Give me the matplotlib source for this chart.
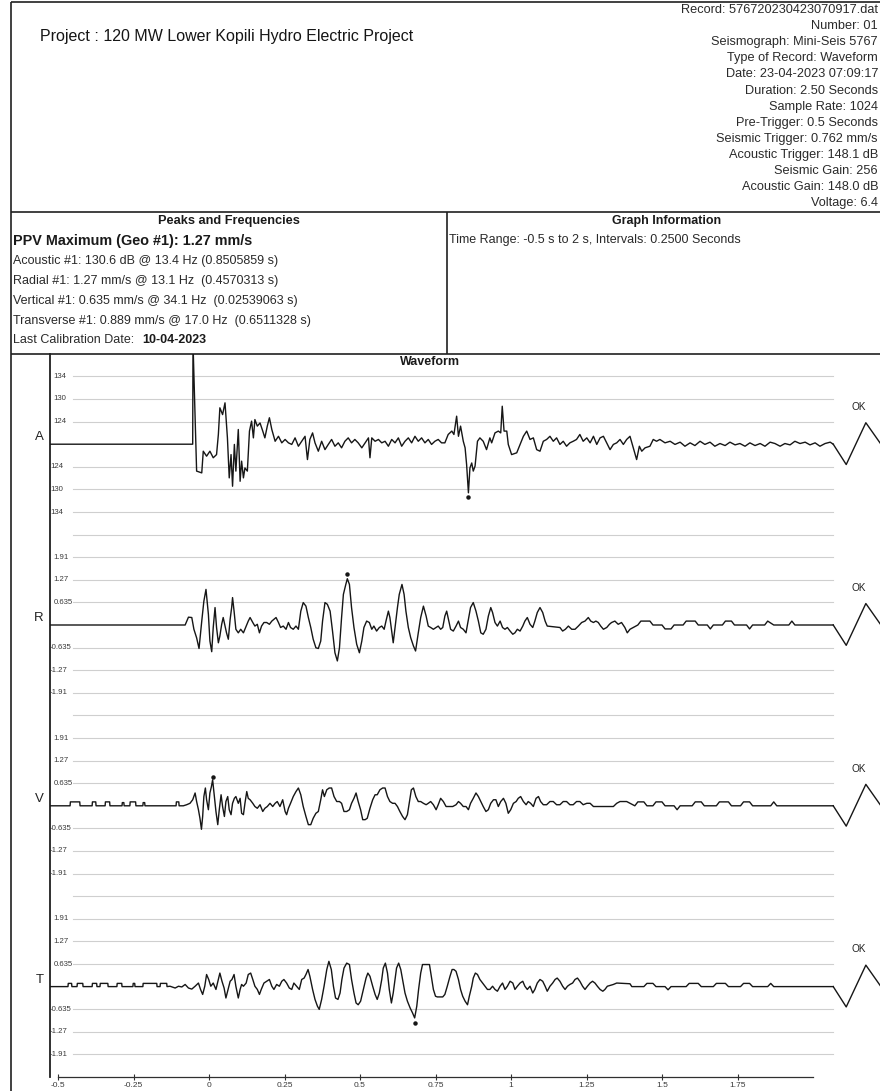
import matplotlib
matplotlib.use("Agg")
import matplotlib.pyplot as plt

plt.rcParams['font.family'] = ['Liberation Sans', 'DejaVu Sans']

W, H = 880, 1091

# ---------------- text content ----------------
title = "Project : 120 MW Lower Kopili Hydro Electric Project"
record_info = [
    "Record: 576720230423070917.dat",
    "Number: 01",
    "Seismograph: Mini-Seis 5767",
    "Type of Record: Waveform",
    "Date: 23-04-2023 07:09:17",
    "Duration: 2.50 Seconds",
    "Sample Rate: 1024",
    "Pre-Trigger: 0.5 Seconds",
    "Seismic Trigger: 0.762 mm/s",
    "Acoustic Trigger: 148.1 dB",
    "Seismic Gain: 256",
    "Acoustic Gain: 148.0 dB",
    "Voltage: 6.4",
]
ppv_line = "PPV Maximum (Geo #1): 1.27 mm/s"
peak_lines = [
    "Acoustic #1: 130.6 dB @ 13.4 Hz (0.8505859 s)",
    "Radial #1: 1.27 mm/s @ 13.1 Hz  (0.4570313 s)",
    "Vertical #1: 0.635 mm/s @ 34.1 Hz  (0.02539063 s)",
    "Transverse #1: 0.889 mm/s @ 17.0 Hz  (0.6511328 s)",
]
calib_label = "Last Calibration Date:"
calib_date = "10-04-2023"
graph_info = "Time Range: -0.5 s to 2 s, Intervals: 0.2500 Seconds"

# ---------------- waveform data ----------------
x_ticks = [-0.5, -0.25, 0, 0.25, 0.5, 0.75, 1, 1.25, 1.5, 1.75]
x_tick_labels = ["-0.5", "-0.25", "0", "0.25", "0.5", "0.75", "1", "1.25", "1.5", "1.75"]
geo_tick_values = [0.635, 1.27, 1.91]
acoustic_tick_labels = ["124", "130", "134"]

# Acoustic channel (time s, amplitude in chart divisions)
acoustic_trace = [
    (-0.53, 0.0), (-0.054, 0.0), (-0.053, 4.5), (-0.041, -1.19), (-0.024, -1.27),
    (-0.019, -0.31), (-0.008, -0.53), (0.003, -0.31), (0.014, -0.60), (0.025, -0.46),
    (0.031, 0.43), (0.036, 1.61), (0.045, 1.31), (0.053, 1.83), (0.061, 0.28),
    (0.067, -1.49), (0.073, -0.46), (0.078, -1.86), (0.084, -0.01), (0.089, -1.19),
    (0.097, 0.65), (0.103, -1.64), (0.108, -0.75), (0.114, -1.49), (0.119, -1.05),
    (0.127, -1.19), (0.134, 0.58), (0.141, 1.02), (0.147, 0.28), (0.152, 1.09),
    (0.160, 0.80), (0.169, 0.94), (0.178, 0.58), (0.185, 0.28), (0.193, 0.80),
    (0.200, 1.17), (0.208, 0.65), (0.219, 0.13), (0.230, 0.35), (0.241, 0.06),
    (0.252, 0.21), (0.263, 0.06), (0.274, -0.01), (0.285, 0.28), (0.296, -0.09),
    (0.307, 0.13), (0.318, 0.35), (0.326, -0.68), (0.334, 0.21), (0.343, 0.50),
    (0.351, 0.06), (0.362, -0.31), (0.373, 0.13), (0.384, -0.24), (0.395, -0.01),
    (0.406, 0.21), (0.417, -0.09), (0.428, 0.06), (0.439, -0.16), (0.450, 0.13),
    (0.461, 0.28), (0.472, 0.06), (0.483, 0.21), (0.494, 0.06), (0.506, -0.16),
    (0.517, 0.06), (0.528, 0.28), (0.533, -0.60), (0.539, 0.28), (0.550, 0.13),
    (0.561, 0.21), (0.572, 0.06), (0.583, 0.13), (0.594, -0.09), (0.605, 0.21),
    (0.616, 0.06), (0.627, 0.28), (0.638, -0.09), (0.649, 0.13), (0.660, 0.28),
    (0.671, 0.06), (0.682, 0.35), (0.693, 0.13), (0.704, 0.28), (0.715, 0.06),
    (0.726, 0.21), (0.737, -0.01), (0.748, 0.13), (0.759, 0.21), (0.770, 0.06),
    (0.781, 0.06), (0.792, 0.43), (0.804, 0.58), (0.811, 0.43), (0.820, 1.24),
    (0.826, 0.35), (0.833, 0.80), (0.842, 0.13), (0.848, -0.16), (0.853, -0.90),
    (0.859, -2.15), (0.864, -1.05), (0.870, -0.83), (0.875, -1.19), (0.881, -0.97),
    (0.889, 0.13), (0.897, 0.28), (0.908, 0.13), (0.919, -0.24), (0.930, 0.28),
    (0.936, 0.06), (0.947, 0.50), (0.958, 0.58), (0.966, 0.50), (0.971, 1.68),
    (0.977, 0.58), (0.986, 0.58), (0.991, -0.01), (1.002, -0.46), (1.019, -0.38),
    (1.030, -0.01), (1.041, 0.35), (1.052, 0.58), (1.063, 0.21), (1.074, 0.28),
    (1.085, -0.24), (1.096, -0.31), (1.107, 0.13), (1.118, 0.21), (1.129, 0.35),
    (1.140, 0.13), (1.151, 0.28), (1.162, -0.01), (1.173, 0.13), (1.184, -0.09),
    (1.195, 0.06), (1.206, 0.13), (1.217, 0.21), (1.228, 0.43), (1.239, 0.13),
    (1.251, 0.28), (1.262, 0.06), (1.273, 0.35), (1.284, -0.01), (1.295, 0.28),
    (1.306, 0.35), (1.317, 0.06), (1.328, -0.24), (1.339, -0.01), (1.350, 0.06),
    (1.361, 0.21), (1.372, -0.01), (1.383, 0.21), (1.394, 0.35), (1.405, -0.16),
    (1.416, -0.68), (1.425, -0.09), (1.433, -0.31), (1.444, -0.16), (1.460, -0.09),
    (1.471, 0.21), (1.482, 0.13), (1.493, 0.21), (1.510, 0.06), (1.527, 0.13),
    (1.543, -0.01), (1.560, 0.09), (1.576, -0.09), (1.593, 0.06), (1.609, -0.06),
    (1.626, 0.13), (1.642, -0.01), (1.659, 0.09), (1.675, -0.09), (1.692, 0.03),
    (1.709, -0.06), (1.725, 0.09), (1.742, -0.03), (1.758, 0.03), (1.775, -0.09),
    (1.791, 0.06), (1.808, -0.06), (1.825, 0.03), (1.841, -0.09), (1.858, 0.09),
    (1.874, 0.03), (1.891, -0.09), (1.907, 0.03), (1.924, -0.03), (1.940, 0.13),
    (1.957, 0.03), (1.974, 0.09), (1.990, -0.03), (2.007, 0.06), (2.023, -0.09),
    (2.040, 0.03), (2.057, 0.09), (2.067, 0.0),
]

# Radial (time s, mm/s)
radial_trace = [
    (-0.53, 0.0), (-0.079, 0.0), (-0.068, 0.22), (-0.057, 0.21), (-0.050, -0.12),
    (-0.041, -0.36), (-0.033, -0.66), (-0.024, 0.11), (-0.017, 0.67), (-0.010, 1.00),
    (-0.002, 0.30), (0.003, -0.45), (0.009, -0.75), (0.014, -0.07), (0.020, 0.49),
    (0.025, -0.07), (0.031, -0.50), (0.036, -0.31), (0.042, 0.02), (0.047, 0.21),
    (0.053, -0.03), (0.058, -0.22), (0.064, -0.40), (0.070, 0.16), (0.075, 0.49),
    (0.078, 0.77), (0.083, 0.39), (0.089, -0.12), (0.097, -0.22), (0.105, -0.12),
    (0.114, -0.22), (0.123, -0.03), (0.130, 0.11), (0.136, 0.21), (0.145, 0.07),
    (0.152, -0.03), (0.160, 0.02), (0.167, -0.22), (0.174, -0.03), (0.182, 0.07),
    (0.191, 0.07), (0.200, 0.02), (0.208, 0.11), (0.215, 0.16), (0.222, 0.21),
    (0.230, 0.07), (0.237, -0.07), (0.246, -0.03), (0.255, -0.12), (0.263, 0.07),
    (0.270, -0.07), (0.279, -0.12), (0.288, -0.03), (0.296, -0.12), (0.304, 0.39),
    (0.312, 0.63), (0.321, 0.53), (0.329, 0.21), (0.337, -0.07), (0.345, -0.40),
    (0.354, -0.64), (0.362, -0.66), (0.370, -0.45), (0.376, 0.11), (0.384, 0.63),
    (0.392, 0.58), (0.401, 0.39), (0.409, -0.17), (0.417, -0.78), (0.425, -1.01),
    (0.432, -0.64), (0.439, 0.21), (0.445, 0.86), (0.453, 1.14), (0.458, 1.30),
    (0.465, 1.14), (0.472, 0.49), (0.480, -0.07), (0.489, -0.54), (0.498, -0.78),
    (0.506, -0.45), (0.513, -0.07), (0.522, 0.11), (0.531, 0.07), (0.539, -0.12),
    (0.546, -0.03), (0.555, -0.17), (0.564, -0.07), (0.572, -0.03), (0.580, -0.12),
    (0.586, 0.11), (0.594, 0.39), (0.599, 0.21), (0.605, -0.17), (0.610, -0.50),
    (0.616, -0.07), (0.624, 0.49), (0.630, 0.86), (0.639, 1.14), (0.646, 0.86),
    (0.652, 0.39), (0.660, -0.07), (0.668, -0.36), (0.677, -0.59), (0.684, -0.73),
    (0.693, -0.22), (0.701, 0.21), (0.710, 0.53), (0.719, 0.25), (0.726, -0.03),
    (0.734, -0.07), (0.743, -0.12), (0.752, -0.07), (0.759, -0.03), (0.767, -0.12),
    (0.774, -0.07), (0.781, 0.25), (0.787, 0.39), (0.794, 0.11), (0.800, -0.12),
    (0.809, -0.17), (0.818, -0.03), (0.826, 0.11), (0.833, -0.07), (0.842, -0.12),
    (0.851, -0.22), (0.859, 0.16), (0.866, 0.49), (0.875, 0.63), (0.884, 0.39),
    (0.892, 0.11), (0.900, -0.22), (0.908, -0.26), (0.917, -0.12), (0.925, 0.25),
    (0.933, 0.49), (0.939, 0.35), (0.947, 0.07), (0.955, -0.03), (0.964, 0.11),
    (0.972, -0.07), (0.980, -0.12), (0.988, -0.07), (0.997, -0.17), (1.006, -0.26),
    (1.013, -0.22), (1.021, -0.12), (1.030, -0.17), (1.039, -0.03), (1.046, 0.11),
    (1.054, 0.21), (1.063, 0.02), (1.072, -0.07), (1.079, 0.11), (1.087, 0.35),
    (1.096, 0.49), (1.105, 0.35), (1.113, 0.11), (1.120, -0.03), (1.162, -0.07),
    (1.171, -0.17), (1.180, -0.12), (1.190, -0.03), (1.201, -0.12), (1.212, -0.12),
    (1.223, -0.03), (1.234, 0.07), (1.245, 0.11), (1.256, 0.21), (1.264, 0.11),
    (1.273, 0.07), (1.281, 0.11), (1.289, 0.07), (1.297, -0.03), (1.306, -0.12),
    (1.317, -0.07), (1.326, 0.02), (1.333, 0.07), (1.344, 0.11), (1.355, 0.02),
    (1.366, 0.07), (1.377, -0.07), (1.385, -0.22), (1.394, -0.12), (1.420, 0.0),
    (1.430, 0.11), (1.460, 0.11), (1.470, 0.0), (1.500, 0.0), (1.510, -0.11),
    (1.530, -0.11), (1.540, 0.0), (1.570, 0.0), (1.580, 0.11), (1.610, 0.11),
    (1.620, 0.0), (1.650, 0.0), (1.660, -0.11), (1.670, 0.0), (1.700, 0.0),
    (1.710, 0.11), (1.730, 0.11), (1.740, 0.0), (1.780, 0.0), (1.790, -0.11),
    (1.800, 0.0), (1.840, 0.0), (1.850, 0.11), (1.870, 0.0), (1.920, 0.0),
    (1.930, 0.11), (1.940, 0.0), (2.067, 0.0),
]

# Vertical (time s, mm/s)
vertical_trace = [
    (-0.53, 0.0), (-0.460, 0.0), (-0.459, 0.11), (-0.428, 0.11), (-0.427, 0.0),
    (-0.387, 0.0), (-0.386, 0.11), (-0.375, 0.11), (-0.374, 0.0), (-0.344, 0.0),
    (-0.343, 0.11), (-0.329, 0.11), (-0.328, 0.0), (-0.288, 0.0), (-0.287, 0.09),
    (-0.282, 0.09), (-0.281, 0.0), (-0.262, 0.0), (-0.261, 0.11), (-0.243, 0.11),
    (-0.242, 0.0), (-0.219, 0.0), (-0.218, 0.09), (-0.213, 0.09), (-0.212, 0.0),
    (-0.109, 0.0), (-0.108, 0.11), (-0.100, 0.11), (-0.099, 0.0), (-0.085, 0.0),
    (-0.074, 0.03), (-0.063, 0.07), (-0.054, 0.17), (-0.046, 0.36), (-0.041, 0.12),
    (-0.035, -0.11), (-0.030, -0.35), (-0.025, -0.66), (-0.021, -0.30), (-0.017, 0.26),
    (-0.012, 0.50), (-0.008, 0.17), (-0.002, -0.11), (0.003, 0.36), (0.008, 0.54),
    (0.012, 0.73), (0.018, 0.26), (0.023, -0.16), (0.029, -0.53), (0.034, -0.11),
    (0.040, 0.31), (0.045, -0.02), (0.051, -0.30), (0.056, 0.12), (0.062, 0.26),
    (0.067, -0.11), (0.073, -0.25), (0.078, 0.07), (0.084, 0.21), (0.089, 0.26),
    (0.097, 0.07), (0.103, 0.21), (0.108, -0.21), (0.114, -0.25), (0.119, 0.07),
    (0.125, 0.40), (0.130, 0.21), (0.136, 0.17), (0.145, 0.07), (0.152, -0.02),
    (0.160, -0.07), (0.169, 0.03), (0.178, -0.16), (0.185, -0.07), (0.193, -0.02),
    (0.202, 0.07), (0.211, -0.02), (0.219, 0.07), (0.226, 0.12), (0.235, -0.02),
    (0.244, 0.17), (0.252, -0.16), (0.257, -0.25), (0.263, -0.07), (0.270, 0.07),
    (0.279, 0.26), (0.288, 0.40), (0.296, 0.50), (0.304, 0.31), (0.312, -0.02),
    (0.321, -0.30), (0.329, -0.53), (0.337, -0.53), (0.345, -0.35), (0.354, -0.21),
    (0.362, -0.16), (0.370, 0.17), (0.376, 0.45), (0.382, 0.26), (0.390, 0.45),
    (0.398, 0.50), (0.406, 0.50), (0.414, 0.26), (0.423, 0.12), (0.432, 0.12),
    (0.439, 0.07), (0.447, -0.16), (0.456, -0.16), (0.465, -0.11), (0.472, 0.07),
    (0.480, 0.21), (0.487, 0.36), (0.494, 0.12), (0.502, -0.11), (0.509, -0.39),
    (0.517, -0.39), (0.524, -0.35), (0.533, -0.07), (0.542, 0.17), (0.550, 0.31),
    (0.557, 0.31), (0.566, 0.45), (0.575, 0.50), (0.583, 0.50), (0.591, 0.26),
    (0.599, 0.12), (0.608, 0.07), (0.616, 0.07), (0.624, -0.02), (0.632, -0.16),
    (0.641, -0.30), (0.649, -0.39), (0.657, -0.25), (0.663, 0.07), (0.670, 0.45),
    (0.677, 0.50), (0.685, 0.26), (0.693, 0.12), (0.701, 0.12), (0.710, 0.07),
    (0.719, 0.03), (0.726, 0.07), (0.734, 0.12), (0.743, 0.03), (0.752, -0.11),
    (0.759, 0.03), (0.767, 0.21), (0.776, 0.12), (0.785, -0.02), (0.796, -0.02),
    (0.807, -0.02), (0.818, 0.03), (0.826, 0.12), (0.833, 0.07), (0.842, -0.02),
    (0.851, -0.02), (0.859, -0.11), (0.866, 0.07), (0.875, 0.21), (0.884, 0.36),
    (0.892, 0.26), (0.900, 0.12), (0.908, -0.02), (0.917, -0.16), (0.925, -0.11),
    (0.933, 0.07), (0.942, 0.17), (0.950, 0.17), (0.958, -0.02), (0.966, 0.12),
    (0.975, 0.21), (0.983, 0.07), (0.991, -0.21), (0.999, -0.11), (1.008, 0.07),
    (1.017, 0.12), (1.024, 0.21), (1.032, 0.26), (1.041, 0.12), (1.050, 0.03),
    (1.057, 0.12), (1.065, 0.07), (1.074, -0.02), (1.083, 0.21), (1.091, 0.26),
    (1.098, 0.12), (1.107, 0.03), (1.118, 0.03), (1.129, 0.12), (1.140, 0.12),
    (1.151, 0.03), (1.162, 0.03), (1.173, 0.12), (1.184, 0.12), (1.195, 0.03),
    (1.206, 0.03), (1.217, 0.12), (1.228, 0.12), (1.239, 0.03), (1.251, 0.07),
    (1.262, 0.07), (1.273, -0.02), (1.339, -0.02), (1.350, 0.07), (1.361, 0.12),
    (1.383, 0.12), (1.394, 0.07), (1.410, 0.0), (1.420, 0.11), (1.440, 0.11),
    (1.450, 0.0), (1.470, 0.0), (1.480, 0.11), (1.500, 0.11), (1.510, 0.0),
    (1.540, 0.0), (1.550, -0.11), (1.560, 0.0), (1.600, 0.0), (1.610, 0.11),
    (1.630, 0.11), (1.640, 0.0), (1.680, 0.0), (1.690, 0.11), (1.720, 0.11),
    (1.730, 0.0), (1.760, 0.0), (1.770, 0.11), (1.790, 0.11), (1.800, 0.0),
    (1.860, 0.0), (1.870, 0.11), (1.880, 0.0), (2.067, 0.0),
]

# Transverse (time s, mm/s)
transverse_trace = [
    (-0.53, 0.0), (-0.467, 0.0), (-0.466, 0.09), (-0.455, 0.09), (-0.454, 0.0),
    (-0.437, 0.0), (-0.436, 0.09), (-0.418, 0.09), (-0.417, 0.0), (-0.387, 0.0),
    (-0.386, 0.09), (-0.372, 0.09), (-0.371, 0.0), (-0.361, 0.0), (-0.360, 0.09),
    (-0.335, 0.09), (-0.334, 0.0), (-0.305, 0.0), (-0.304, 0.09), (-0.289, 0.09),
    (-0.288, 0.0), (-0.252, 0.0), (-0.251, 0.09), (-0.246, 0.09), (-0.245, 0.0),
    (-0.219, 0.0), (-0.218, 0.09), (-0.173, 0.09), (-0.172, 0.0), (-0.162, 0.0),
    (-0.161, 0.09), (-0.140, 0.09), (-0.139, 0.0), (-0.129, 0.01), (-0.112, -0.04),
    (-0.101, 0.01), (-0.090, -0.01), (-0.079, 0.06), (-0.068, -0.04), (-0.057, -0.07),
    (-0.046, 0.01), (-0.035, 0.10), (-0.028, -0.08), (-0.021, -0.22), (-0.014, 0.01),
    (-0.008, 0.34), (-0.001, 0.20), (0.006, 0.01), (0.014, 0.10), (0.023, -0.08),
    (0.031, 0.20), (0.036, 0.38), (0.043, 0.15), (0.050, -0.04), (0.056, -0.32),
    (0.063, -0.08), (0.070, 0.15), (0.076, 0.20), (0.083, 0.34), (0.089, 0.01),
    (0.097, -0.32), (0.103, -0.08), (0.108, 0.06), (0.114, 0.01), (0.123, 0.10),
    (0.130, 0.34), (0.138, 0.38), (0.145, 0.20), (0.152, 0.01), (0.160, -0.08),
    (0.167, -0.22), (0.173, -0.08), (0.182, 0.10), (0.191, 0.15), (0.200, 0.20),
    (0.208, 0.01), (0.215, -0.08), (0.224, 0.06), (0.233, 0.01), (0.241, 0.15),
    (0.248, 0.20), (0.257, 0.10), (0.266, -0.04), (0.274, -0.08), (0.281, 0.10),
    (0.290, 0.01), (0.299, -0.08), (0.307, 0.20), (0.315, 0.24), (0.321, 0.34),
    (0.328, 0.48), (0.334, 0.29), (0.343, -0.08), (0.351, -0.36), (0.359, -0.55),
    (0.365, -0.64), (0.373, -0.36), (0.381, 0.01), (0.390, 0.48), (0.397, 0.71),
    (0.405, 0.48), (0.412, 0.01), (0.419, -0.32), (0.427, -0.36), (0.434, -0.18),
    (0.440, 0.20), (0.447, 0.52), (0.456, 0.66), (0.465, 0.62), (0.472, 0.20),
    (0.480, -0.18), (0.487, -0.46), (0.494, -0.51), (0.502, -0.41), (0.511, -0.08),
    (0.520, 0.24), (0.526, 0.38), (0.533, 0.29), (0.542, 0.01), (0.550, -0.22),
    (0.557, -0.36), (0.564, -0.18), (0.572, 0.20), (0.577, 0.52), (0.584, 0.66),
    (0.591, 0.38), (0.597, -0.08), (0.604, -0.46), (0.610, -0.18), (0.616, 0.20),
    (0.621, 0.52), (0.628, 0.66), (0.635, 0.48), (0.641, 0.20), (0.649, -0.18),
    (0.657, -0.41), (0.666, -0.60), (0.674, -0.74), (0.681, -0.88), (0.688, -0.55),
    (0.694, -0.08), (0.701, 0.38), (0.707, 0.62), (0.715, 0.62), (0.723, 0.62),
    (0.730, 0.62), (0.736, 0.29), (0.743, -0.08), (0.750, -0.27), (0.756, -0.29),
    (0.765, -0.29), (0.774, -0.29), (0.781, -0.22), (0.789, 0.01), (0.798, 0.29),
    (0.805, 0.48), (0.811, 0.48), (0.818, 0.43), (0.826, 0.20), (0.833, -0.08),
    (0.840, -0.27), (0.848, -0.41), (0.856, -0.51), (0.862, -0.27), (0.870, 0.01),
    (0.875, 0.24), (0.882, 0.38), (0.889, 0.34), (0.897, 0.20), (0.906, 0.10),
    (0.914, 0.01), (0.922, -0.08), (0.930, -0.08), (0.939, 0.01), (0.947, -0.08),
    (0.955, -0.13), (0.964, 0.01), (0.972, 0.10), (0.980, -0.08), (0.988, 0.01),
    (0.997, 0.15), (1.006, 0.10), (1.013, -0.08), (1.021, 0.01), (1.030, 0.10),
    (1.039, 0.15), (1.046, 0.01), (1.054, -0.08), (1.063, 0.01), (1.072, -0.18),
    (1.079, -0.08), (1.087, 0.10), (1.096, 0.20), (1.105, 0.15), (1.113, 0.01),
    (1.120, -0.13), (1.129, 0.01), (1.138, 0.10), (1.146, 0.20), (1.153, 0.24),
    (1.162, 0.15), (1.171, 0.01), (1.179, -0.08), (1.187, 0.01), (1.195, 0.06),
    (1.204, 0.10), (1.212, 0.20), (1.220, 0.24), (1.228, 0.15), (1.237, 0.01),
    (1.245, -0.08), (1.253, 0.01), (1.262, 0.10), (1.270, 0.15), (1.278, 0.10),
    (1.286, 0.01), (1.295, -0.08), (1.304, -0.13), (1.311, -0.08), (1.319, 0.01),
    (1.339, 0.06), (1.350, 0.10), (1.394, 0.08), (1.400, 0.0), (1.440, 0.0),
    (1.450, 0.09), (1.470, 0.09), (1.480, 0.0), (1.510, 0.0), (1.520, -0.09),
    (1.530, 0.0), (1.580, 0.0), (1.590, 0.09), (1.620, 0.09), (1.630, 0.0),
    (1.670, 0.0), (1.680, 0.09), (1.710, 0.09), (1.720, 0.0), (1.760, 0.0),
    (1.770, 0.09), (1.790, 0.09), (1.800, 0.0), (1.850, 0.0), (1.860, 0.09),
    (1.870, 0.0), (2.067, 0.0),
]

# Calibration pulse (time s, chart divisions) drawn after each trace
cal_pulse = [(2.067, 0.0), (2.110, -0.9), (2.175, 0.95), (2.225, 0.0)]

# Peak markers: acoustic in divisions, geophones in mm/s
peak_marks = {"A": (0.859, -2.35), "R": (0.458, 1.42), "V": (0.012, 0.80), "T": (0.681, -1.02)}

# ---------------- figure ----------------
fig = plt.figure(figsize=(W / 100, H / 100), dpi=100)
fig.patch.set_facecolor("white")

ov = fig.add_axes([0, 0, 1, 1])
ov.set_xlim(0, W)
ov.set_ylim(H, 0)
ov.axis("off")

ink = "#1a1a1a"
body = "#2a2a2a"
frame_kw = dict(color="#202020", lw=1.2, solid_capstyle="butt")
ov.plot([11, 11], [2, H], **frame_kw)
ov.plot([11, W], [2, 2], **frame_kw)
ov.plot([11, W], [212, 212], **frame_kw)
ov.plot([447, 447], [212, 354], **frame_kw)
ov.plot([11, W], [354, 354], **frame_kw)

ov.text(40, 37, title, fontsize=11.5, color="#151515", va="center", ha="left")
for i, line in enumerate(record_info):
    ov.text(878, 10 + i * 16.1, line, fontsize=9.2, color=body, va="center", ha="right")

ov.text(229, 221, "Peaks and Frequencies", fontsize=9.2, fontweight="bold", color=ink,
        va="center", ha="center")
ov.text(13, 241, ppv_line, fontsize=10.4, fontweight="bold", color=ink, va="center")
for i, line in enumerate(peak_lines):
    ov.text(13, 261 + i * 20, line, fontsize=9.0, color=body, va="center")
ov.text(13, 340, calib_label, fontsize=9.0, color=body, va="center")
ov.text(142, 340, calib_date, fontsize=9.0, fontweight="bold", color=ink, va="center")

ov.text(667, 221, "Graph Information", fontsize=9.0, fontweight="bold", color=ink,
        va="center", ha="center")
ov.text(449, 240, graph_info, fontsize=9.0, color=body, va="center")
ov.text(430, 362, "Waveform", fontsize=9.0, fontweight="bold", color=ink,
        va="center", ha="center")

# waveform axes
pitch = 22.6
ax_left_px, ax_bottom_px, ax_top_px = 50, 1077, 354
t0 = (ax_left_px - 209) / 302.0
t1r = (W - 209) / 302.0
ax = fig.add_axes([ax_left_px / W, (H - ax_bottom_px) / H,
                   (W - ax_left_px) / W, (ax_bottom_px - ax_top_px) / H])
ax.patch.set_alpha(0)
ax.set_xlim(t0, t1r)
ax.set_ylim(0, (ax_bottom_px - ax_top_px) / pitch)

for sp in ["top", "right"]:
    ax.spines[sp].set_visible(False)
ax.spines["left"].set_color("#202020")
ax.spines["left"].set_linewidth(1.3)
ax.spines["bottom"].set_color("#303030")
ax.spines["bottom"].set_linewidth(0.9)
ax.spines["bottom"].set_bounds(-0.5, 2.0)
ax.set_yticks([])
ax.set_xticks(x_ticks)
ax.set_xticklabels(x_tick_labels, fontsize=6, color="#3a3a3a")
ax.tick_params(axis="x", direction="inout", length=5, width=0.8, color="#303030", pad=1)

channels = [("A", 28, acoustic_trace), ("R", 20, radial_trace),
            ("V", 12, vertical_trace), ("T", 4, transverse_trace)]
geo_scale = 0.635  # mm/s per division

grid_t = (-0.45, 2.066)
for name, base, trace in channels:
    scale = 1.0 if name == "A" else geo_scale
    for k in [-4, -3, -2, -1, 1, 2, 3]:
        y = base + k
        if y <= 0:
            continue
        ax.plot(grid_t, [y, y], color="#cfcfcf", lw=0.8, zorder=1)
    for k in [1, 2, 3]:
        if name == "A":
            up = dn = acoustic_tick_labels[k - 1]
        else:
            up = "%g" % geo_tick_values[k - 1]
            dn = "-%g" % geo_tick_values[k - 1]
        ax.text(0.004, base + k, up, transform=ax.get_yaxis_transform(),
                fontsize=5.6, color="#3a3a3a", va="center", ha="left")
        ax.text(0.0, base - k, dn, transform=ax.get_yaxis_transform(),
                fontsize=5.6, color="#3a3a3a", va="center", ha="left")
    ts = [p[0] for p in trace]
    ys = [base + p[1] / scale for p in trace]
    ax.plot(ts, ys, color="#161616", lw=1.0, zorder=3)
    ct = [p[0] for p in cal_pulse]
    cy = [base + p[1] for p in cal_pulse]
    ax.plot(ct, cy, color="#161616", lw=1.0, zorder=3, clip_on=False)
    pt, pv = peak_marks[name]
    ax.plot([pt], [base + pv / scale], "o", ms=2.2, color="#161616", zorder=4)
    ax.text(2.150, base + 1.65, "OK", fontsize=7.2, color="#222222", ha="center", va="center")
    ax.text(-0.008, base + 0.3, name, transform=ax.get_yaxis_transform(),
            fontsize=9.5, color="#222222", ha="right", va="center")

fig.savefig("out.png", dpi=100, facecolor="white")
